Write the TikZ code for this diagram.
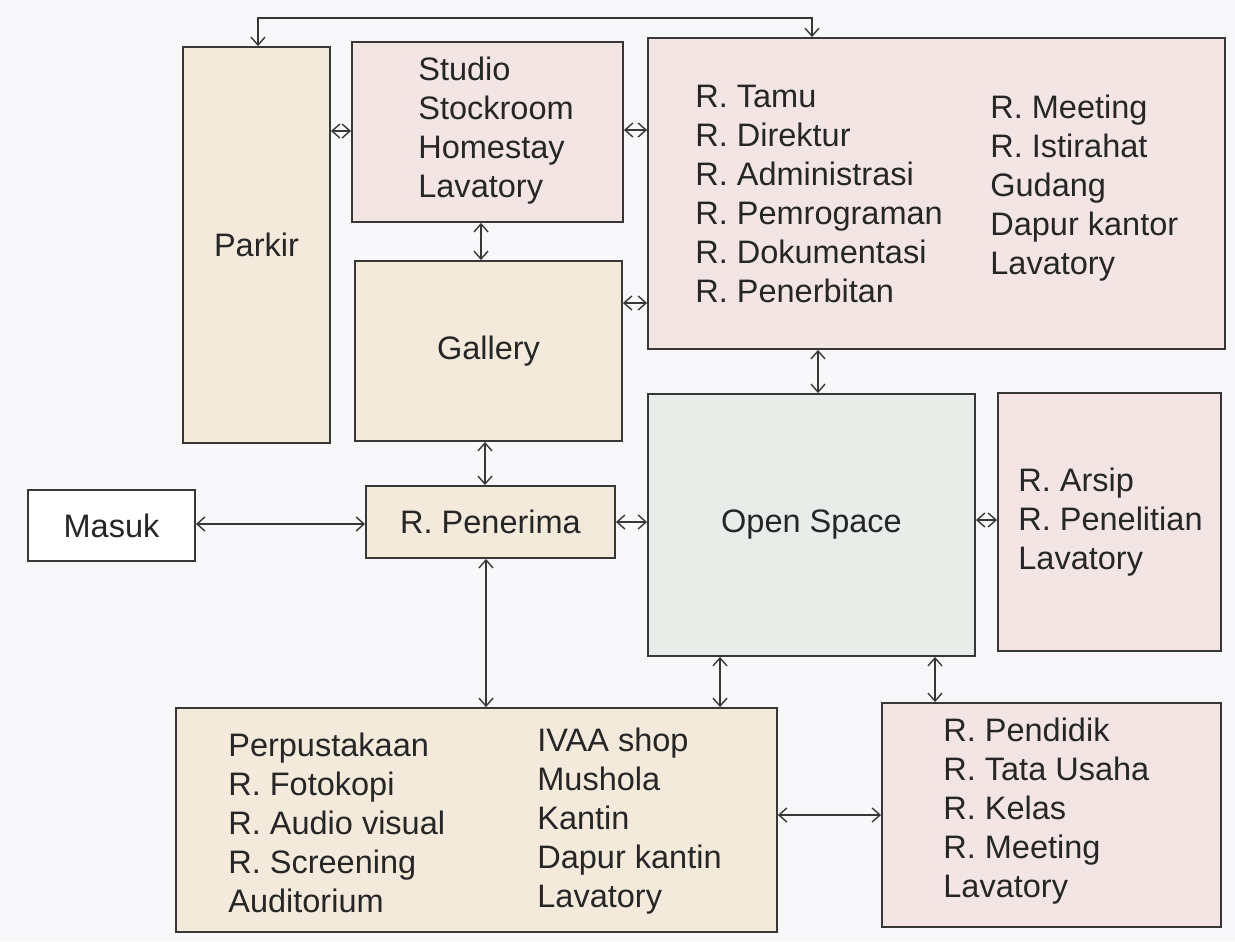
\documentclass[tikz,border=0pt]{standalone}
\usepackage{fontspec}
\setmainfont{Liberation Sans}
\usetikzlibrary{arrows.meta}

\definecolor{latar}{RGB}{248,248,250}
\definecolor{merah}{RGB}{244,229,229}
\definecolor{krem}{RGB}{243,234,219}
\definecolor{abu}{RGB}{233,237,233}
\definecolor{garis}{RGB}{55,55,55}

\begin{document}
\begin{tikzpicture}[x=0.02cm,y=-0.02cm]

\tikzset{ruang/.style = {shape=rectangle,draw=garis,line width=1.1pt,inner sep=0pt,text=black!85,font=\fontsize{18.5}{22.2}\selectfont}}
\tikzset{daftar/.style = {anchor=west,align=left,inner sep=0pt,text=black!85,font=\fontsize{18.5}{22.2}\selectfont}}
\tikzset{edge/.style = {<->,> = {Straight Barb[length=4.5pt,width=8pt]},draw=garis,line width=0.8pt}}

\fill[latar] (0,0) rectangle (1235,941);
\useasboundingbox (0,0) rectangle (1235,941);

%ruang
\node[ruang, fill=krem, minimum width=2.94cm, minimum height=7.92cm] (parkir) at (256.5,245) {Parkir};
\node[ruang, fill=merah, minimum width=5.42cm, minimum height=3.6cm] (studio) at (487.5,132) {};
\node[ruang, fill=merah, minimum width=11.54cm, minimum height=6.22cm] (kantor) at (936.5,193.5) {};
\node[ruang, fill=krem, minimum width=5.34cm, minimum height=3.6cm] (gallery) at (488.5,351) {Gallery};
\node[ruang, fill=white, minimum width=3.34cm, minimum height=1.42cm] (masuk) at (111.5,525.5) {Masuk};
\node[ruang, fill=krem, minimum width=4.98cm, minimum height=1.44cm] (penerima) at (490.5,522) {R. Penerima};
\node[ruang, fill=abu, minimum width=6.54cm, minimum height=5.24cm] (openspace) at (811.5,525) {Open Space};
\node[ruang, fill=merah, minimum width=4.46cm, minimum height=5.16cm] (arsip) at (1109.5,522) {};
\node[ruang, fill=krem, minimum width=12.02cm, minimum height=4.48cm] (publik) at (476.5,820) {};
\node[ruang, fill=merah, minimum width=6.78cm, minimum height=4.48cm] (pendidikan) at (1051.5,815) {};

%isi ruang
\node[daftar] (studiolist) at (418,130.5) {Studio\\Stockroom\\Homestay\\Lavatory};
\node[daftar] (kantorkiri) at (695,194) {R. Tamu\\R. Direktur\\R. Administrasi\\R. Pemrograman\\R. Dokumentasi\\R. Penerbitan};
\node[daftar] (kantorkanan) at (990,188.5) {R. Meeting\\R. Istirahat\\Gudang\\Dapur kantor\\Lavatory};
\node[daftar] (arsiplist) at (1018,522) {R. Arsip\\R. Penelitian\\Lavatory};
\node[daftar] (publikkiri) at (228,822.5) {Perpustakaan\\R. Fotokopi\\R. Audio visual\\R. Screening\\Auditorium};
\node[daftar] (publikkanan) at (537,821) {IVAA shop\\Mushola\\Kantin\\Dapur kantin\\Lavatory};
\node[daftar] (pendidikanlist) at (943,811.5) {R. Pendidik\\R. Tata Usaha\\R. Kelas\\R. Meeting\\Lavatory};

%edges
\draw [edge] (parkir.north -| 258,0) -- (258,18) -- (812,18) -- (kantor.north -| 812,0);
\draw [edge] (parkir.east |- 0,131) -- (studio.west |- 0,131);
\draw [edge] (studio.east |- 0,130) -- (kantor.west |- 0,130);
\draw [edge] (studio.south -| 481,0) -- (gallery.north -| 481,0);
\draw [edge] (gallery.east |- 0,303) -- (kantor.west |- 0,303);
\draw [edge] (kantor.south -| 818,0) -- (openspace.north -| 818,0);
\draw [edge] (gallery.south -| 485,0) -- (penerima.north -| 485,0);
\draw [edge] (masuk.east |- 0,524) -- (penerima.west |- 0,524);
\draw [edge] (penerima.east |- 0,522) -- (openspace.west |- 0,522);
\draw [edge] (openspace.east |- 0,520) -- (arsip.west |- 0,520);
\draw [edge] (penerima.south -| 486,0) -- (publik.north -| 486,0);
\draw [edge] (openspace.south -| 720,0) -- (publik.north -| 720,0);
\draw [edge] (openspace.south -| 935,0) -- (pendidikan.north -| 935,0);
\draw [edge] (publik.east |- 0,815) -- (pendidikan.west |- 0,815);

\end{tikzpicture}
\end{document}
